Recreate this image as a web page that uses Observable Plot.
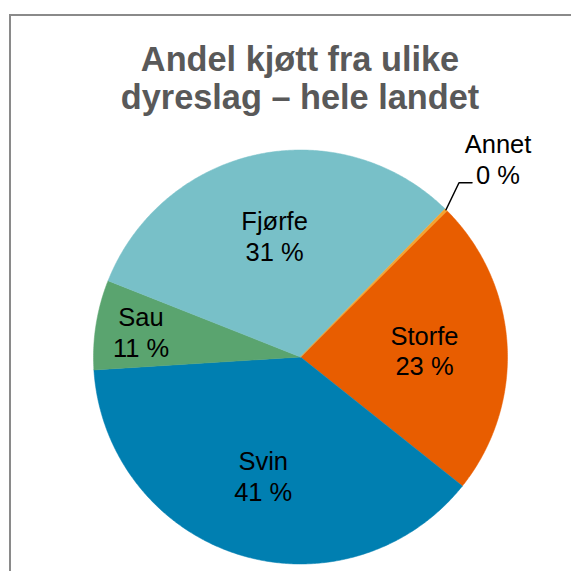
<!DOCTYPE html>
<html>
<head>
<meta charset="utf-8">
<script src="https://cdn.jsdelivr.net/npm/d3@7"></script>
<script src="https://cdn.jsdelivr.net/npm/@observablehq/plot@0.6"></script>
<style>
  html, body { margin: 0; padding: 0; background: #fff; }
  #wrap { position: relative; width: 571px; height: 571px; overflow: hidden; font-family: "Liberation Sans", Arial, sans-serif; }
  #frame { position: absolute; left: 9px; top: 14px; width: 700px; height: 700px; border-left: 2px solid #8a8a8a; border-top: 2px solid #8a8a8a; }
  #title { position: absolute; left: 0; width: 600px; top: 41.3px; text-align: center; font-weight: bold; font-size: 34.3px; line-height: 37.3px; color: #595959; }
  #chart { position: absolute; left: 0; top: 0; }
</style>
</head>
<body>
<div id="wrap">
  <div id="frame"></div>
  <div id="chart"></div>
  <div id="title">Andel kjøtt fra ulike<br>dyreslag – hele landet</div>
</div>
<script>
// Slice categories (clockwise order, starting at Annet)
const names = ["Annet", "Storfe", "Svin", "Sau", "Fjørfe"];
// Slice sizes as drawn in the picture (share of the full circle, %)
const shares = [0.2, 23.2, 38.3, 7.0, 31.3];
// Percent labels as printed on the chart
const pctLabels = ["0 %", "23 %", "41 %", "11 %", "31 %"];
const colors = ["#F4A22D", "#E85D00", "#007FB1", "#5AA46F", "#78C0C8"];

const startDeg = 44.3;
const rows = names.map((n, i) => ({name: n, share: shares[i], label: pctLabels[i], color: colors[i]}));
const arcs = d3.pie().sort(null).value(d => d.share)
  .startAngle(startDeg * Math.PI / 180)
  .endAngle(startDeg * Math.PI / 180 + 2 * Math.PI)(rows);

// Build slice polygons (unit circle, y up)
const poly = [];
for (const a of arcs) {
  const pts = [{name: a.data.name, x: 0, y: 0}];
  const n = Math.max(2, Math.ceil((a.endAngle - a.startAngle) / (Math.PI / 360)));
  for (let k = 0; k <= n; k++) {
    const t = a.startAngle + (a.endAngle - a.startAngle) * k / n;
    pts.push({name: a.data.name, x: Math.sin(t), y: Math.cos(t)});
  }
  poly.push(...pts);
}
// draw Annet last so it stays visible
const order = ["Storfe", "Svin", "Sau", "Fjørfe", "Annet"];
poly.sort((p, q) => order.indexOf(p.name) - order.indexOf(q.name));

const R = 207; // pixels
const inside = arcs.filter(a => a.data.share >= 1).map(a => {
  const m = (a.startAngle + a.endAngle) / 2;
  const f = a.data.share < 10 ? 0.78 : 0.6;
  return {x: f * Math.sin(m), y: f * Math.cos(m), text: a.data.name + "\n" + a.data.label};
});
const small = arcs.filter(a => a.data.share < 1).map(a => {
  const m = (a.startAngle + a.endAngle) / 2;
  const p0 = {x: Math.sin(m), y: Math.cos(m)};
  const p1 = {x: p0.x + 13 / R, y: p0.y + 27 / R};
  const p2 = {x: p1.x + 13 / R, y: p1.y};
  return {pts: [p0, p1, p2], text: a.data.name + "\n" + a.data.label};
});
const leader = small.flatMap(s => s.pts);
const outside = small.map(s => ({x: s.pts[2].x + 26 / R, y: s.pts[2].y, text: s.text}));

const cx = 300, cy = 356.5;
const chart = Plot.plot({
  width: 571,
  height: 571,
  margin: 0,
  style: {background: "transparent", fontFamily: "Liberation Sans, Arial, sans-serif", overflow: "visible"},
  x: {domain: [-1, 1], range: [cx - R, cx + R], axis: null},
  y: {domain: [-1, 1], range: [cy + R, cy - R], axis: null},
  color: {domain: names, range: colors},
  marks: [
    Plot.line(poly, {x: "x", y: "y", z: "name", fill: "name", stroke: "name", strokeWidth: 0.5, curve: "linear-closed"}),
    Plot.line(leader, {x: "x", y: "y", stroke: "black", strokeWidth: 1.5}),
    Plot.text(inside, {x: "x", y: "y", text: "text", fontSize: 25.5, lineHeight: 1.2, fill: "black", lineAnchor: "middle"}),
    Plot.text(outside, {x: "x", y: "y", text: "text", fontSize: 25.5, lineHeight: 1.2, fill: "black", lineAnchor: "bottom", dy: 1})
  ]
});
document.getElementById("chart").appendChild(chart);
</script>
</body>
</html>
